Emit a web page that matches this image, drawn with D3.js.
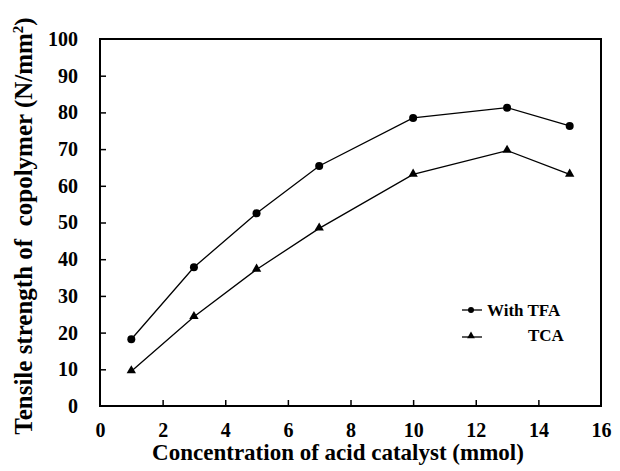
<!DOCTYPE html>
<html><head><meta charset="utf-8">
<script src="https://cdn.jsdelivr.net/npm/d3@7"></script>
<style>body{margin:0;background:#fff}svg{display:block}</style>
</head><body><svg id="c" width="620" height="471"></svg>
<script>
const xValues = [1, 3, 5, 7, 10, 13, 15];
const tfa = [18.2, 37.8, 52.5, 65.4, 78.5, 81.3, 76.3];
const tca = [9.5, 24.3, 37.2, 48.4, 63.1, 69.6, 63.1];
const xTicks = [0, 2, 4, 6, 8, 10, 12, 14, 16];
const yTicks = [0, 10, 20, 30, 40, 50, 60, 70, 80, 90, 100];
const seriesNames = ["With TFA", "TCA"];

const FONT = '"Liberation Serif"';
const svg = d3.select("#c");
const m = {l: 100, r: 601, t: 39, b: 406};
const x = d3.scaleLinear().domain([0, 16]).range([m.l, m.r]);
const y = d3.scaleLinear().domain([0, 100]).range([m.b, m.t]);

svg.append("rect").attr("x", m.l).attr("y", m.t).attr("width", m.r - m.l).attr("height", m.b - m.t)
  .attr("fill", "none").attr("stroke", "#000").attr("stroke-width", 2);

const gx = svg.append("g").attr("transform", `translate(0,${m.b})`)
  .call(d3.axisBottom(x).tickValues(xTicks).tickSizeInner(-6).tickSizeOuter(0).tickPadding(17));
const gy = svg.append("g").attr("transform", `translate(${m.l},0)`)
  .call(d3.axisLeft(y).tickValues(yTicks).tickSizeInner(-6).tickSizeOuter(0).tickPadding(22));
[gx, gy].forEach(g => {
  g.attr("font-family", null).attr("font-size", null);
  g.select(".domain").remove();
  g.selectAll("line").attr("stroke", "#000").attr("stroke-width", 1.5);
  g.selectAll("text").style("font-size", "20px").style("font-family", FONT).style("font-weight", "bold").attr("fill", "#000");
});
gx.selectAll(".tick line").filter(d => d === 0 || d === 16).remove();
gy.selectAll(".tick line").filter(d => d === 0 || d === 100).remove();

const line = d3.line().x((d, i) => x(xValues[i])).y(d => y(d));
svg.append("path").datum(tfa).attr("d", line).attr("fill", "none").attr("stroke", "#000").attr("stroke-width", 1.3);
svg.append("path").datum(tca).attr("d", line).attr("fill", "none").attr("stroke", "#000").attr("stroke-width", 1.3);

svg.selectAll(".c1").data(tfa).enter().append("circle")
  .attr("cx", (d, i) => x(xValues[i])).attr("cy", d => y(d)).attr("r", 4).attr("fill", "#000");
const tri = d3.symbol().type(d3.symbolTriangle).size(38);
svg.selectAll(".t1").data(tca).enter().append("path").attr("d", tri)
  .attr("transform", (d, i) => `translate(${x(xValues[i])},${y(d) - 0.5})`).attr("fill", "#000");

function txt(sel) { return sel.style("font-family", FONT).style("font-weight", "bold").attr("fill", "#000"); }

// legend
const lg = svg.append("g");
lg.append("line").attr("x1", 462).attr("x2", 482).attr("y1", 310).attr("y2", 310).attr("stroke", "#000").attr("stroke-width", 1.3);
lg.append("circle").attr("cx", 471).attr("cy", 310).attr("r", 3).attr("fill", "#000");
txt(lg.append("text").attr("x", 487).attr("y", 316).style("font-size", "17px").text(seriesNames[0]));
lg.append("line").attr("x1", 462).attr("x2", 482).attr("y1", 337).attr("y2", 337).attr("stroke", "#000").attr("stroke-width", 1.3);
lg.append("path").attr("d", d3.symbol().type(d3.symbolTriangle).size(26)).attr("transform", "translate(471,336)").attr("fill", "#000");
txt(lg.append("text").attr("x", 528).attr("y", 341).style("font-size", "17px").text(seriesNames[1]));

txt(svg.append("text").attr("x", 338).attr("y", 460).attr("text-anchor", "middle").style("font-size", "23px")
  .text("Concentration of acid catalyst (mmol)"));
const yt = txt(svg.append("text").attr("transform", "translate(32,226) rotate(-90)").attr("text-anchor", "middle").style("font-size", "25px")
  .style("white-space", "pre"));
yt.append("tspan").text("Tensile strength of  copolymer (N/mm");
yt.append("tspan").attr("dy", -9).style("font-size", "15px").text("2");
yt.append("tspan").attr("dy", 9).text(")");
</script></body></html>
